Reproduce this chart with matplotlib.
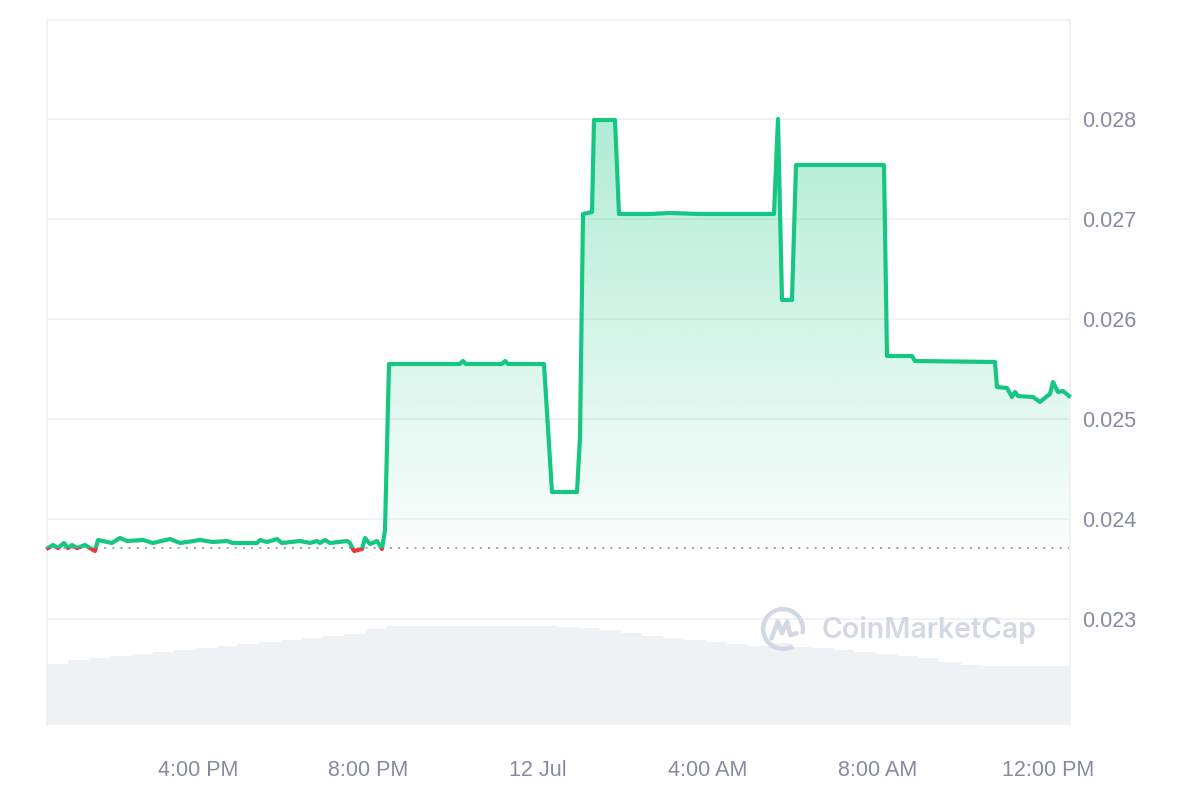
import numpy as np
import matplotlib
matplotlib.use('Agg')
import matplotlib.pyplot as plt
from matplotlib.patches import Rectangle, Polygon, Arc
from matplotlib.colors import to_rgb

# --- data (hours since 12:00 PM, 11 Jul) ---
hours = [0.471, 0.588, 0.706, 0.847, 0.941, 1.035, 1.153, 1.341, 1.459, 1.576,
         1.647, 1.976, 2.165, 2.329, 2.706, 2.941, 3.341, 3.576, 4.047, 4.353,
         4.682, 4.824, 5.388, 5.459, 5.624, 5.859, 5.976, 6.400, 6.635, 6.800,
         6.871, 6.988, 7.106, 7.506, 7.576, 7.671, 7.859, 7.929, 8.047, 8.212,
         8.329, 8.400, 8.494, 8.988, 10.160, 10.235, 10.306, 11.150, 11.224, 11.294,
         12.141, 12.329, 12.918, 12.988, 13.059, 13.271, 13.318, 13.812, 13.906, 14.635,
         15.106, 15.812, 17.553, 17.647, 17.741, 17.976, 18.071, 19.106, 20.141, 20.212,
         20.800, 20.871, 22.753, 22.800, 23.035, 23.153, 23.224, 23.294, 23.647, 23.812,
         23.953, 24.047, 24.118, 24.235, 24.353, 24.494]
price = [0.02371, 0.02374, 0.02371, 0.02376, 0.02371, 0.02374, 0.02371, 0.02374, 0.02371, 0.02368,
         0.02379, 0.02376, 0.02381, 0.02378, 0.02379, 0.02376, 0.02380, 0.02376, 0.02379, 0.02377,
         0.02378, 0.02376, 0.02376, 0.02379, 0.02377, 0.02380, 0.02376, 0.02378, 0.02376, 0.02378,
         0.02376, 0.02379, 0.02376, 0.02378, 0.02376, 0.02368, 0.02370, 0.02381, 0.02375, 0.02378,
         0.02370, 0.02389, 0.02555, 0.02555, 0.02555, 0.02558, 0.02555, 0.02555, 0.02558, 0.02555,
         0.02555, 0.02427, 0.02427, 0.02482, 0.02705, 0.02707, 0.02799, 0.02799, 0.02705, 0.02705,
         0.02706, 0.02705, 0.02705, 0.02800, 0.02619, 0.02619, 0.02754, 0.02754, 0.02754, 0.02563,
         0.02563, 0.02558, 0.02557, 0.02532, 0.02531, 0.02522, 0.02527, 0.02523, 0.02522, 0.02517,
         0.02522, 0.02525, 0.02537, 0.02527, 0.02528, 0.02523]
baseline = 0.02371

# volume, 30 min buckets starting at vol_start
vol_start = 0.447
vol_step = 0.5
volume = [61, 65, 67, 69, 71, 73, 75, 77, 79, 81, 83, 85, 87, 89, 91, 96,
          99, 99, 99, 99, 99, 99, 99, 99, 98, 97, 95, 92, 89, 87, 85, 83,
          81, 79, 82, 78, 77, 75, 73, 71, 69, 67, 63, 60, 59, 59, 59, 59, 59]

tick_hours = [4, 8, 12, 16, 20, 24]
tick_labels = ['4:00 PM', '8:00 PM', '12 Jul', '4:00 AM', '8:00 AM', '12:00 PM']
price_ticks = [0.023, 0.024, 0.025, 0.026, 0.027, 0.028]

GREEN = '#16c784'
RED = '#ea3943'
TEXT = '#858ca2'
GRID = '#eff2f5'
X0, X1 = 0.447, 24.518
Y0, Y1 = 0.02194, 0.02899

plt.rcParams['font.family'] = ['Liberation Sans', 'DejaVu Sans']

fig = plt.figure(figsize=(12, 8), dpi=100)
pos = [47 / 1200, 75 / 800, 1023 / 1200, 705 / 800]

# volume in the back
ax_vol = fig.add_axes(pos)
vol_x = vol_start + vol_step * np.arange(len(volume))
ax_vol.bar(vol_x, volume, width=vol_step, align='edge', color='#eff2f5', linewidth=0)
ax_vol.set_ylim(0, 705)
ax_vol.set_xlim(X0, X1)
ax_vol.axis('off')

ax = fig.add_axes(pos, sharex=ax_vol)
ax.patch.set_alpha(0)

x = np.array(hours)
y = np.array(price)

# gradient fill above baseline
top = np.maximum(y, baseline)
verts = np.column_stack([np.concatenate([x, x[::-1]]),
                         np.concatenate([top, np.full(len(x), baseline)])])
clip = Polygon(verts, closed=True, facecolor='none', edgecolor='none')
ax.add_patch(clip)
grad = np.zeros((256, 1, 4))
grad[:, 0, :3] = to_rgb(GREEN)
grad[:, 0, 3] = np.linspace(0.02, 0.34, 256)
im = ax.imshow(grad, extent=[X0, X1, baseline, 0.0280], origin='lower',
               aspect='auto', zorder=1)
im.set_clip_path(clip)
ax.set_xlim(X0, X1)
ax.set_ylim(Y0, Y1)

# small red fill below baseline
ax.fill_between(x, y, baseline, where=y < baseline, interpolate=True,
                color=RED, alpha=0.15, linewidth=0, zorder=1)

# baseline dotted
ax.axhline(baseline, color='#9aa1b3', lw=1.4, linestyle=(0, (1, 3.2)), zorder=2)

# price line, green above / red below baseline
above = Rectangle((X0 - 1, baseline), X1 - X0 + 2, 1, transform=ax.transData)
below = Rectangle((X0 - 1, baseline - 1), X1 - X0 + 2, 1, transform=ax.transData)
ln_g, = ax.plot(x, y, color=GREEN, lw=3, solid_joinstyle='round', zorder=3)
ln_g.set_clip_path(above)
ln_r, = ax.plot(x, y, color=RED, lw=3, solid_joinstyle='round', zorder=3)
ln_r.set_clip_path(below)

# axes styling
ax.set_yticks(price_ticks)
ax.set_yticklabels([f'{v:.3f}' for v in price_ticks])
ax.yaxis.tick_right()
ax.set_xticks(tick_hours)
ax.set_xticklabels(tick_labels)
ax.grid(axis='y', color=GRID, lw=1.3, zorder=0)
ax.set_axisbelow(True)
ax.tick_params(axis='y', length=0, pad=9, labelsize=15.5, labelcolor=TEXT)
ax.tick_params(axis='x', length=0, pad=25, labelsize=15.5, labelcolor=TEXT)
for side in ['top', 'left', 'right']:
    ax.spines[side].set_color(GRID)
    ax.spines[side].set_linewidth(1.3)
ax.spines['bottom'].set_visible(False)

# watermark
WM = '#d3d9e4'
fig.text(822 / 1200, 1 - 630 / 800, 'CoinMarketCap', fontsize=20.5, color=WM,
         family=['Inter', 'DejaVu Sans'], fontweight='semibold', va='center', ha='left')
ax_logo = fig.add_axes([760 / 1200, 1 - 652 / 800, 46 / 1200, 46 / 800])
ax_logo.set_xlim(-1.1, 1.1)
ax_logo.set_ylim(-1.1, 1.1)
ax_logo.axis('off')
ax_logo.add_patch(Arc((0, 0), 1.9, 1.9, theta1=-15, theta2=300, color=WM, lw=3.2))
ax_logo.plot([-0.55, -0.25, -0.05, 0.2, 0.35, 0.65],
             [-0.45, 0.35, -0.2, 0.35, -0.3, -0.2], color=WM, lw=3.2,
             solid_joinstyle='round', solid_capstyle='round')

fig.savefig('out.png', dpi=100, facecolor='white')
